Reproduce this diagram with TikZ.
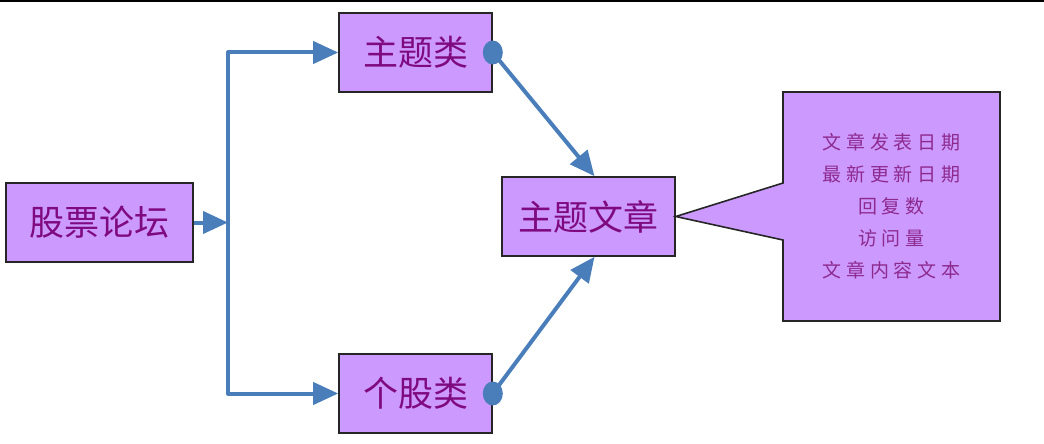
\documentclass[tikz,border=0pt]{standalone}
\usepackage{fontspec}
\setmainfont{Noto Sans CJK SC}
\newfontfamily\cjkspaced[LetterSpace=25]{Noto Sans CJK SC}
\usetikzlibrary{arrows.meta,shapes.callouts}
\definecolor{boxfill}{HTML}{CC99FF}
\definecolor{txt}{HTML}{7F0A7F}
\definecolor{txtlight}{HTML}{8E2A8E}
\definecolor{arrowblue}{HTML}{4A7EBB}
\tikzset{
  catbox/.style={draw=black!85, line width=1.6pt, fill=boxfill, text=txt,
    minimum height=79pt, inner sep=0pt, font=\fontsize{35}{40}\selectfont},
  flow/.style={draw=arrowblue, line width=4pt, line join=round,
    -{Triangle[length=25pt,width=22pt]}},
  dot/.style={fill=arrowblue}
}
\begin{document}
\begin{tikzpicture}[x=1pt,y=-1pt]
\useasboundingbox (0,0) rectangle (1044,444);
\draw[black, line width=2.5pt] (0,1.25) -- (1044,1.25);

\node[catbox, minimum width=187pt] (forum) at (99.5,222.5) {股票论坛};
\node[catbox, minimum width=153pt] (topic) at (415.5,52.5) {主题类};
\node[catbox, minimum width=153pt] (stock) at (415.5,393.5) {个股类};
\node[catbox, minimum width=173pt] (article) at (588.5,216.5) {主题文章};

\node[rectangle callout, draw=black!85, line width=1.6pt, fill=boxfill,
  text=txtlight, minimum width=217pt, minimum height=229pt, inner sep=0pt,
  callout absolute pointer={(article.east)}, callout pointer width=57pt,
  align=center, font=\cjkspaced\fontsize{19}{32}\selectfont]
  (info) at (891.5,206.5)
  {文章发表日期\\最新更新日期\\回复数\\访问量\\文章内容文本};

\coordinate (split) at (228,222.5);
\draw[flow] (forum.east) -- (split);
\draw[flow] (split) |- (topic.west);
\draw[flow] (split) |- (stock.west);

\draw[flow] (topic.east) -- ([xshift=6pt]article.north);
\draw[flow] (stock.east) -- ([xshift=6pt]article.south);
\fill[dot] (topic.east) ellipse [x radius=10pt, y radius=12pt];
\fill[dot] (stock.east) ellipse [x radius=10pt, y radius=12pt];
\end{tikzpicture}
\end{document}
